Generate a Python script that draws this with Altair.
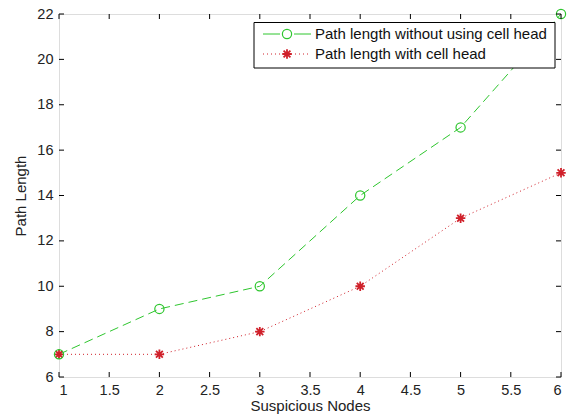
import altair as alt
import pandas as pd

# ---- data ----
nodes = [1, 2, 3, 4, 5, 6]
without_cell_head = [7, 9, 10, 14, 17, 22]
with_cell_head = [7, 7, 8, 10, 13, 15]
x_ticks = [1, 1.5, 2, 2.5, 3, 3.5, 4, 4.5, 5, 5.5, 6]
y_ticks = [6, 8, 10, 12, 14, 16, 18, 20, 22]
series_names = ["Path length without using cell head", "Path length with cell head"]

W, H = 502, 363
GREEN = "#2ec62e"
RED = "#d0202a"
FONT = "Liberation Sans"
STAR = "M-1,0L1,0M0,-1L0,1M-0.72,-0.72L0.72,0.72M-0.72,0.72L0.72,-0.72"

df = pd.DataFrame({"nodes": nodes, "without": without_cell_head, "with": with_cell_head})
xt = pd.DataFrame({"v": x_ticks})
yt = pd.DataFrame({"v": y_ticks})

xscale = alt.Scale(domain=[1, 6], nice=False, zero=False)
yscale = alt.Scale(domain=[6, 22], nice=False, zero=False)

xaxis = alt.Axis(values=x_ticks, format="~g", title="Suspicious Nodes", grid=False,
                 domain=False, ticks=False, labelPadding=6, labelFontSize=14.5,
                 titleFontSize=15, titleFontWeight="normal", titlePadding=2,
                 labelColor="#222", titleColor="#222", labelFont=FONT, titleFont=FONT)
yaxis = alt.Axis(values=y_ticks, format="~g", title="Path Length", grid=False,
                 domain=False, ticks=False, labelPadding=6, labelFontSize=14.5,
                 titleFontSize=15, titleFontWeight="normal", titlePadding=8,
                 labelColor="#222", titleColor="#222", labelFont=FONT, titleFont=FONT)

X = alt.X("nodes:Q", scale=xscale, axis=xaxis)

green_line = alt.Chart(df).mark_line(color=GREEN, strokeWidth=1, strokeDash=[9, 5]).encode(
    x=X, y=alt.Y("without:Q", scale=yscale, axis=yaxis))
green_pts = alt.Chart(df).mark_point(color=GREEN, shape="circle", size=85, filled=False,
                                     strokeWidth=1.2, opacity=1, clip=False).encode(
    x=X, y=alt.Y("without:Q", scale=yscale, axis=yaxis))
red_line = alt.Chart(df).mark_line(color=RED, strokeWidth=1, strokeDash=[1, 3]).encode(
    x=X, y=alt.Y("with:Q", scale=yscale, axis=yaxis))
red_pts = alt.Chart(df).mark_point(color=RED, shape=STAR, size=90, filled=False,
                                   strokeWidth=1.8, opacity=1).encode(
    x=X, y=alt.Y("with:Q", scale=yscale, axis=yaxis))

# inward MATLAB-style ticks on all four sides
tick_style = dict(color="black", strokeWidth=1)
bx = alt.Chart(xt).mark_rule(**tick_style).encode(
    x=alt.X("v:Q", scale=xscale, axis=xaxis), y=alt.value(H), y2=alt.value(H - 5))
tx = alt.Chart(xt).mark_rule(**tick_style).encode(
    x=alt.X("v:Q", scale=xscale, axis=xaxis), y=alt.value(0), y2=alt.value(5))
ly = alt.Chart(yt).mark_rule(**tick_style).encode(
    y=alt.Y("v:Q", scale=yscale, axis=yaxis), x=alt.value(0), x2=alt.value(5))
ry = alt.Chart(yt).mark_rule(**tick_style).encode(
    y=alt.Y("v:Q", scale=yscale, axis=yaxis), x=alt.value(W), x2=alt.value(W - 5))

# legend box
one = pd.DataFrame({"a": [0]})
lbox = alt.Chart(one).mark_rect(fill="white", stroke="black", strokeWidth=1).encode(
    x=alt.value(195), x2=alt.value(496), y=alt.value(8.5), y2=alt.value(54))
l1_line = alt.Chart(one).mark_rule(color=GREEN, strokeWidth=1, strokeDash=[17, 14]).encode(
    x=alt.value(204), x2=alt.value(252), y=alt.value(20))
l1_pt = alt.Chart(one).mark_point(color=GREEN, shape="circle", size=85, filled=False,
                                  strokeWidth=1.2, opacity=1).encode(
    x=alt.value(228), y=alt.value(20))
l1_txt = alt.Chart(one).mark_text(align="left", baseline="middle", fontSize=15, font=FONT,
                                  color="#111").encode(
    x=alt.value(256), y=alt.value(20), text=alt.value(series_names[0]))
l2_line = alt.Chart(one).mark_rule(color=RED, strokeWidth=1, strokeDash=[1, 3]).encode(
    x=alt.value(204), x2=alt.value(252), y=alt.value(40))
l2_pt = alt.Chart(one).mark_point(color=RED, shape=STAR, size=90, filled=False,
                                  strokeWidth=1.8, opacity=1).encode(
    x=alt.value(228), y=alt.value(40))
l2_txt = alt.Chart(one).mark_text(align="left", baseline="middle", fontSize=15, font=FONT,
                                  color="#111").encode(
    x=alt.value(256), y=alt.value(40), text=alt.value(series_names[1]))

chart = alt.layer(
    green_line, red_line, red_pts, green_pts, bx, tx, ly, ry,
    lbox, l1_line, l1_pt, l1_txt, l2_line, l2_pt, l2_txt
).properties(
    width=W, height=H,
    autosize=alt.AutoSizeParams(type="none"),
    padding={"left": 59, "top": 14, "right": 8, "bottom": 41},
    background="white",
).configure_view(stroke="black", strokeWidth=1).configure(font=FONT)

chart.save("out.html", embed_options={"renderer": "svg", "actions": False})
